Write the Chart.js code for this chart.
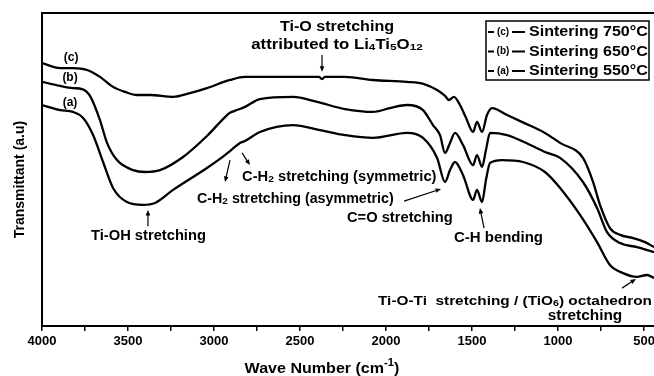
<!DOCTYPE html>
<html>
<head>
<meta charset="utf-8">
<script src="https://cdn.jsdelivr.net/npm/chart.js@4.4.1/dist/chart.umd.min.js"></script>
<style>
  html, body { margin: 0; padding: 0; background: #fff; }
  #wrap { width: 654px; height: 376px; }
</style>
</head>
<body>
<div id="wrap"><canvas id="ftirChart" width="654" height="376"></canvas></div>
<script>
// FTIR spectra (wave number in cm-1, transmittance in a.u.)
const sampleTags = ['(c)', '(b)', '(a)'];
const sampleNames = ['Sintering 750°C', 'Sintering 650°C', 'Sintering 550°C'];

const waveC = [4000, 3895, 3820, 3738, 3663, 3587, 3517, 3448, 3372, 3238, 3140, 3041, 2907, 2820, 2657, 2459, 2390, 2372, 2355, 2238, 2076, 1878, 1779, 1703, 1657, 1634, 1605, 1570, 1535, 1494, 1471, 1442, 1413, 1384, 1296, 1198, 1076, 988, 855, 796, 756, 698, 639, 564, 494, 442];
const transC = [84.0, 82.4, 82.4, 81.8, 79.6, 76.4, 74.8, 73.8, 73.8, 73.2, 74.4, 76.0, 78.6, 79.6, 79.6, 79.6, 79.6, 78.9, 79.6, 79.6, 78.6, 78.0, 77.3, 75.4, 73.5, 72.2, 73.2, 70.6, 66.5, 62.0, 65.2, 62.0, 67.4, 69.6, 67.4, 64.9, 61.7, 58.5, 53.7, 46.0, 38.7, 31.3, 29.1, 28.1, 26.8, 25.2];

const waveB = [4000, 3895, 3820, 3767, 3721, 3663, 3622, 3564, 3471, 3401, 3314, 3180, 3041, 2924, 2907, 2866, 2820, 2733, 2541, 2401, 2238, 2076, 1977, 1878, 1785, 1727, 1686, 1657, 1628, 1599, 1552, 1494, 1471, 1442, 1419, 1395, 1296, 1198, 1076, 988, 855, 773, 715, 639, 541, 442];
const transB = [78.0, 76.7, 76.0, 75.7, 73.5, 65.8, 58.5, 53.0, 49.8, 49.2, 49.8, 54.0, 60.7, 67.4, 68.1, 69.0, 70.0, 72.5, 73.2, 71.6, 69.3, 68.4, 69.6, 70.6, 69.0, 64.2, 61.0, 55.3, 58.5, 61.7, 57.8, 51.4, 54.6, 50.8, 56.2, 61.7, 61.0, 58.8, 55.6, 53.7, 46.0, 37.7, 30.0, 26.5, 25.2, 23.6];

const waveA = [4000, 3895, 3820, 3762, 3703, 3645, 3587, 3506, 3413, 3343, 3238, 3041, 2936, 2907, 2849, 2820, 2733, 2541, 2384, 2238, 2076, 1878, 1785, 1703, 1657, 1628, 1599, 1552, 1494, 1471, 1442, 1419, 1395, 1326, 1203, 1076, 988, 872, 773, 698, 622, 541, 482, 442];
const transA = [70.6, 69.0, 68.4, 66.5, 61.0, 52.4, 44.1, 39.6, 38.7, 39.3, 43.5, 50.5, 54.6, 55.9, 58.5, 59.1, 62.0, 64.2, 62.6, 61.0, 60.1, 61.7, 60.1, 53.7, 46.0, 49.8, 52.4, 48.2, 40.3, 43.5, 39.6, 46.6, 52.1, 53.0, 52.4, 49.2, 44.1, 35.5, 26.8, 19.5, 16.9, 15.7, 16.3, 15.3];

const xTickValues = [4000, 3750, 3500, 3250, 3000, 2750, 2500, 2250, 2000, 1750, 1500, 1250, 1000, 750, 500];

// band assignments: [text, 0 normal | 1 subscript | 2 superscript]
const bandNotes = [
  { parts: [['Ti-O stretching', 0]], w: 2285, v: 95.5, align: 'center', size: 14, stretch: 1.15 },
  { parts: [['attributed to Li', 0], ['4', 1], ['Ti', 0], ['5', 1], ['O', 0], ['12', 1]], w: 2285, v: 89.8, align: 'center', size: 14, stretch: 1.2 },
  { parts: [['C-H', 0], ['2', 1], [' stretching (symmetric)', 0]], w: 2837, v: 47.6, align: 'left', size: 14, stretch: 1.05 },
  { parts: [['C-H', 0], ['2', 1], [' stretching (asymmetric)', 0]], w: 3099, v: 40.6, align: 'left', size: 14, stretch: 1.02 },
  { parts: [['Ti-OH stretching', 0]], w: 3715, v: 28.8, align: 'left', size: 14, stretch: 1.05 },
  { parts: [['C=O stretching', 0]], w: 2227, v: 34.5, align: 'left', size: 14, stretch: 1.05 },
  { parts: [['C-H bending', 0]], w: 1605, v: 28.1, align: 'left', size: 14, stretch: 1.07 },
  { parts: [['Ti-O-Ti  stretching / (TiO', 0], ['6', 1], [') octahedron', 0]], w: 454, v: 7.7, align: 'right', size: 12, stretch: 1.28 },
  { parts: [['stretching', 0]], w: 843, v: 3.2, align: 'center', size: 14, stretch: 1.1 },
  { parts: [['(c)', 0]], w: 3831, v: 85.6, align: 'center', size: 12, stretch: 1 },
  { parts: [['(b)', 0]], w: 3837, v: 79.2, align: 'center', size: 12, stretch: 1 },
  { parts: [['(a)', 0]], w: 3837, v: 71.2, align: 'center', size: 12, stretch: 1 }
];

// arrows: from [w, v] to [w, v], head at the "to" end
const bandArrows = [
  [[2372, 86.6], [2372, 81.2]],
  [[2837, 55.3], [2791, 51.4]],
  [[2907, 53.0], [2936, 46.0]],
  [[3384, 31.9], [3384, 37.1]],
  [[1895, 39.9], [1680, 43.8]],
  [[1430, 31.3], [1454, 37.7]],
  [[628, 12.1], [547, 15.0]]
];

const fontFamily = '"Liberation Sans", Arial, Helvetica, sans-serif';

function toPoints(xs, ys) {
  return xs.map((x, i) => ({ x: x, y: ys[i] }));
}

function drawRich(ctx, parts, x, y, size, align, stretch) {
  ctx.save();
  const widths = parts.map(([t, k]) => {
    ctx.font = `bold ${k ? size * 0.7 : size}px ${fontFamily}`;
    return ctx.measureText(t).width;
  });
  const total = widths.reduce((a, b) => a + b, 0) * stretch;
  const start = align === 'left' ? x : align === 'right' ? x - total : x - total / 2;
  ctx.translate(start, y);
  ctx.scale(stretch, 1);
  ctx.textBaseline = 'middle';
  ctx.textAlign = 'left';
  ctx.fillStyle = '#000';
  let cx = 0;
  parts.forEach(([t, k], i) => {
    ctx.font = `bold ${k ? size * 0.7 : size}px ${fontFamily}`;
    const dy = k === 1 ? size * 0.15 : k === 2 ? -size * 0.38 : 0;
    ctx.fillText(t, cx, dy);
    cx += widths[i];
  });
  ctx.restore();
}

function drawArrow(ctx, x1, y1, x2, y2) {
  const ang = Math.atan2(y2 - y1, x2 - x1);
  const head = 6;
  ctx.save();
  ctx.strokeStyle = '#000';
  ctx.fillStyle = '#000';
  ctx.lineWidth = 1.2;
  ctx.beginPath();
  ctx.moveTo(x1, y1);
  ctx.lineTo(x2 - Math.cos(ang) * head * 0.7, y2 - Math.sin(ang) * head * 0.7);
  ctx.stroke();
  ctx.beginPath();
  ctx.moveTo(x2, y2);
  ctx.lineTo(x2 - head * Math.cos(ang - 0.4), y2 - head * Math.sin(ang - 0.4));
  ctx.lineTo(x2 - head * Math.cos(ang + 0.4), y2 - head * Math.sin(ang + 0.4));
  ctx.closePath();
  ctx.fill();
  ctx.restore();
}

const decorations = {
  id: 'decorations',
  afterDraw(chart) {
    const { ctx, chartArea, scales } = chart;
    const xs = scales.x, ys = scales.y;

    // top frame line
    ctx.save();
    ctx.strokeStyle = '#000';
    ctx.lineWidth = 2;
    ctx.beginPath();
    ctx.moveTo(chartArea.left - 1, chartArea.top);
    ctx.lineTo(chartArea.right, chartArea.top);
    ctx.stroke();
    ctx.restore();

    bandNotes.forEach(n => {
      drawRich(ctx, n.parts, xs.getPixelForValue(n.w), ys.getPixelForValue(n.v), n.size, n.align, n.stretch);
    });
    bandArrows.forEach(([a, b]) => {
      drawArrow(ctx, xs.getPixelForValue(a[0]), ys.getPixelForValue(a[1]),
                xs.getPixelForValue(b[0]), ys.getPixelForValue(b[1]));
    });

    // legend
    const bx = chartArea.right - 168, by = chartArea.top + 8, bw = 163, bh = 59;
    ctx.save();
    ctx.fillStyle = '#fff';
    ctx.fillRect(bx, by, bw, bh);
    ctx.strokeStyle = '#000';
    ctx.lineWidth = 1.5;
    ctx.strokeRect(bx, by, bw, bh);
    chart.data.datasets.forEach((ds, i) => {
      const ry = by + 11 + i * 19.5;
      ctx.strokeStyle = '#000';
      ctx.lineWidth = 2;
      ctx.beginPath();
      ctx.moveTo(bx + 2, ry); ctx.lineTo(bx + 8, ry);
      ctx.moveTo(bx + 26, ry); ctx.lineTo(bx + 39, ry);
      ctx.stroke();
      drawRich(ctx, [[sampleTags[i], 0]], bx + 17, ry, 10, 'center', 1);
      drawRich(ctx, [[ds.label, 0]], bx + 43, ry, 15, 'left', 1.07);
    });
    ctx.restore();

    // axis titles
    drawRich(ctx, [['Wave Number (cm', 0], ['-1', 2], [')', 0]], chartArea.left + 280, 369, 15, 'center', 1.07);
    ctx.save();
    ctx.translate(20, (chartArea.top + chartArea.bottom) / 2 + 10);
    ctx.rotate(-Math.PI / 2);
    drawRich(ctx, [['Transmittant (a.u)', 0]], 0, 0, 14, 'center', 1);
    ctx.restore();
  }
};

const lineStyle = {
  borderColor: '#000',
  borderWidth: 2.3,
  pointRadius: 0,
  fill: false,
  cubicInterpolationMode: 'monotone'
};

const ctx = document.getElementById('ftirChart').getContext('2d');
const ftirChart = new Chart(ctx, {
  type: 'line',
  data: {
    datasets: [
      { label: sampleNames[0], data: toPoints(waveC, transC), ...lineStyle },
      { label: sampleNames[1], data: toPoints(waveB, transB), ...lineStyle },
      { label: sampleNames[2], data: toPoints(waveA, transA), ...lineStyle }
    ]
  },
  options: {
    responsive: false,
    animation: false,
    devicePixelRatio: 1,
    layout: { padding: { top: 13, right: 0, bottom: 0, left: 0 } },
    plugins: {
      legend: { display: false },
      tooltip: { enabled: false }
    },
    scales: {
      x: {
        type: 'linear',
        reverse: true,
        min: 442,
        max: 4000,
        afterBuildTicks(scale) {
          scale.ticks = xTickValues.map(v => ({ value: v }));
        },
        afterFit(scale) {
          scale.height = 50;
          scale.paddingLeft = 0;
          scale.paddingRight = 0;
        },
        ticks: {
          autoSkip: false,
          maxRotation: 0,
          padding: 3,
          color: '#000',
          font: { family: fontFamily, size: 13, weight: 'bold' },
          callback: v => (v % 500 === 0 ? String(v) : '')
        },
        grid: { drawOnChartArea: false, tickLength: 5, color: '#000', lineWidth: 1.5 },
        border: { color: '#000', width: 2 }
      },
      y: {
        min: 0,
        max: 100,
        afterFit(scale) { scale.width = 42; },
        ticks: { display: false },
        grid: { display: false },
        border: { color: '#000', width: 2 }
      }
    }
  },
  plugins: [decorations]
});
</script>
</body>
</html>
